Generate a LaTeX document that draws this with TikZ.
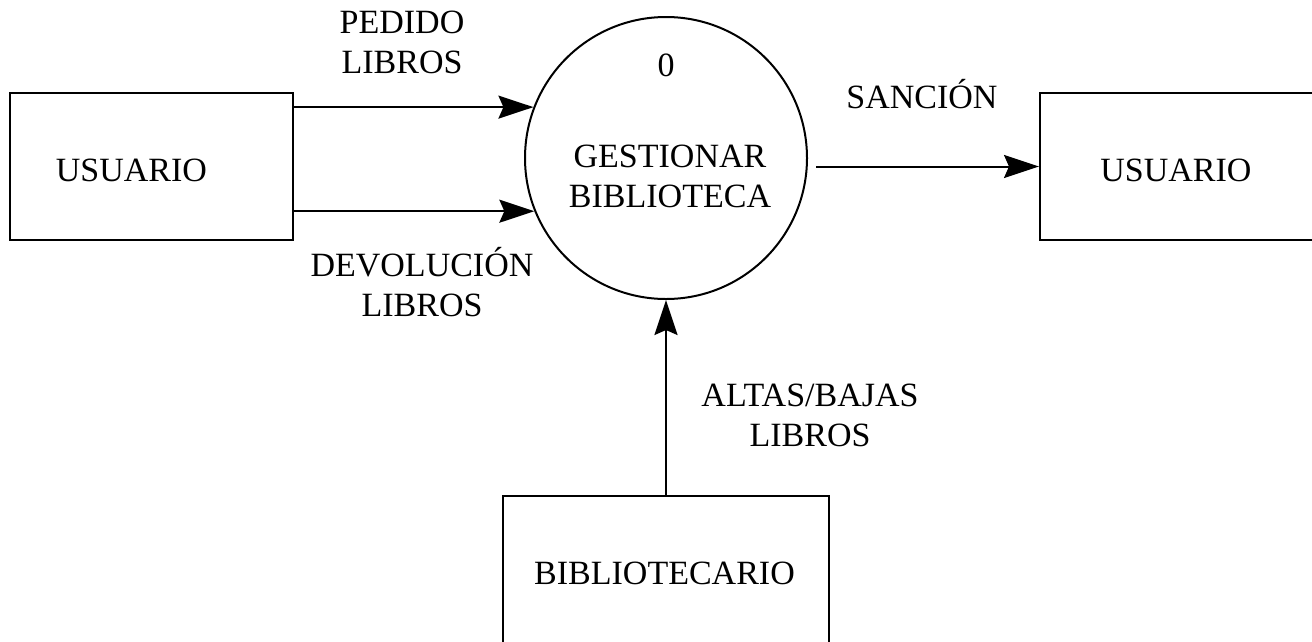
\documentclass[tikz,border=0pt]{standalone}
\usepackage{fontspec}
\setmainfont{Liberation Serif}
\usetikzlibrary{arrows.meta}

\begin{document}
\begin{tikzpicture}[x=1pt, y=-1pt, line width=2pt,
  ent/.style={draw, rectangle, minimum width=283pt, minimum height=147pt, inner sep=0pt},
  lbl/.style={align=center, inner sep=0pt},
  flow/.style={-{Stealth[length=35pt, width=23pt, inset=5pt]}},
  font=\fontsize{34}{40}\selectfont]

\clip (0,0) rectangle (1312,641);

\node[ent] (usr1) at (151.5,166.5) {};
\node[ent] (usr2) at (1181.5,166.5) {};
\node[ent, minimum width=326pt, minimum height=160pt] (bib) at (666,576) {};
\node[draw, circle, minimum size=282pt, inner sep=0pt] (proc) at (666,158) {};

\node[lbl] (usr1txt) at (131.5,170.5) {USUARIO};
\node[lbl] (usr2txt) at (1176,170.5) {USUARIO};
\node[lbl] (bibtxt) at (664.5,573) {BIBLIOTECARIO};
\node[lbl] (num) at (666,65) {0};
\node[lbl] (proctxt) at (670,176.5) {GESTIONAR\\BIBLIOTECA};

\node[lbl] (pedido) at (402,42) {PEDIDO\\LIBROS};
\node[lbl] (devol) at (422,282.5) {DEVOLUCIÓN\\LIBROS};
\node[lbl] (sancion) at (922,94.5) {SANCIÓN};
\node[lbl] (altas) at (810,415.5) {ALTAS/BAJAS\\LIBROS};

\draw[flow] (usr1.east |- proc.159) -- (proc.159);
\draw[flow] (usr1.east |- proc.202) -- (proc.202);
\draw[flow, shorten <=8pt] (proc.east |- usr2.west) -- (usr2.west);
\draw[flow] (bib.north) -- (proc.south);

\end{tikzpicture}
\end{document}
